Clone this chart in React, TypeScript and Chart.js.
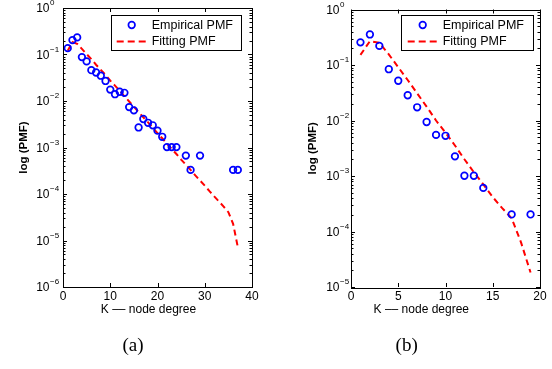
import React, { useEffect, useRef } from "react";
import { Chart, registerables } from "chart.js";
Chart.register(...registerables);

// ---------- data ----------
const kA = [1, 2, 3, 4, 5, 6, 7, 8, 9, 10, 11, 12, 13, 14, 15, 16, 17, 18, 19, 20, 21, 22, 23, 24, 26, 27, 29, 36, 37];
const empA = [0.137, 0.204, 0.233, 0.088, 0.071, 0.046, 0.041, 0.035, 0.027, 0.0176, 0.014, 0.0158, 0.015, 0.0074, 0.0063, 0.0027, 0.0041, 0.0034, 0.003, 0.0023, 0.0017, 0.00102, 0.00102, 0.00102, 0.00067, 0.00033, 0.00067, 0.00033, 0.00033];
const fitKA = [1, 2, 3, 4, 5, 6, 7, 8, 9, 10, 11, 12, 13, 14, 15, 16, 17, 18, 19, 20, 21, 22, 23, 24, 25, 26, 27, 28, 29, 30, 31, 32, 33, 34, 35, 36, 37];
const fitA = [0.12, 0.186, 0.17, 0.132, 0.102, 0.0794, 0.0603, 0.0468, 0.0363, 0.0275, 0.0214, 0.0166, 0.0126, 0.00977, 0.00759, 0.00575, 0.00447, 0.00347, 0.00263, 0.00204, 0.00158, 0.0012, 0.000933, 0.000724, 0.00055, 0.000427, 0.000331, 0.000251, 0.000195, 0.000151, 0.000115, 0.0000891, 0.0000692, 0.0000537, 0.0000407, 0.0000229, 0.0000072];

const kB = [1, 2, 3, 4, 5, 6, 7, 8, 9, 10, 11, 12, 13, 14, 17, 19];
const empB = [0.256, 0.355, 0.221, 0.084, 0.052, 0.0285, 0.0173, 0.0094, 0.0055, 0.0053, 0.00226, 0.00101, 0.00101, 0.00061, 0.000203, 0.000203];
const fitKB = [1, 2, 3, 4, 5, 6, 7, 8, 9, 10, 11, 12, 13, 14, 15, 16, 17, 18, 19];
const fitB = [0.152, 0.269, 0.251, 0.155, 0.0912, 0.0537, 0.0309, 0.0178, 0.01, 0.00603, 0.00355, 0.002, 0.00117, 0.000708, 0.000417, 0.000263, 0.000174, 0.0000631, 0.0000182];

const xTicksA = [0, 10, 20, 30, 40];
const yExpA = [-6, -5, -4, -3, -2, -1, 0];
const xTicksB = [0, 5, 10, 15, 20];
const yExpB = [-5, -4, -3, -2, -1, 0];

const legendLabels = ["Empirical PMF", "Fitting PMF"];
const xTitle = "K –– node degree";
const yTitle = "log (PMF)";
const captions = ["(a)", "(b)"];

const SANS = "'Liberation Sans', Arial, Helvetica, sans-serif";
const SERIF = "'Liberation Serif', 'Times New Roman', serif";

const matlabPlugin = {
  id: "matlab",
  afterDraw(chart: any, _args: any, o: any) {
    const ctx = chart.ctx as CanvasRenderingContext2D;
    const { left, right, top, bottom } = chart.chartArea;
    const xs = chart.scales.x;
    const ys = chart.scales.y;
    ctx.save();
    // box
    ctx.strokeStyle = "#000";
    ctx.lineWidth = 1;
    ctx.strokeRect(Math.round(left) + 0.5, Math.round(top) + 0.5, Math.round(right - left), Math.round(bottom - top));
    // x ticks
    ctx.beginPath();
    for (const t of o.xTicks) {
      const px = Math.round(xs.getPixelForValue(t)) + 0.5;
      ctx.moveTo(px, bottom);
      ctx.lineTo(px, bottom - 4);
      ctx.moveTo(px, top);
      ctx.lineTo(px, top + 4);
    }
    // y ticks (major + minor)
    for (let i = 0; i < o.yExp.length; i++) {
      const e = o.yExp[i];
      const py = Math.round(ys.getPixelForValue(Math.pow(10, e))) + 0.5;
      ctx.moveTo(left, py);
      ctx.lineTo(left + 4, py);
      ctx.moveTo(right, py);
      ctx.lineTo(right - 4, py);
      if (i < o.yExp.length - 1) {
        for (let m = 2; m <= 9; m++) {
          const pm = Math.round(ys.getPixelForValue(m * Math.pow(10, e))) + 0.5;
          ctx.moveTo(left, pm);
          ctx.lineTo(left + 2.5, pm);
          ctx.moveTo(right, pm);
          ctx.lineTo(right - 2.5, pm);
        }
      }
    }
    ctx.stroke();

    // tick labels
    ctx.fillStyle = "#000";
    ctx.font = `12px ${SANS}`;
    ctx.textAlign = "center";
    ctx.textBaseline = "middle";
    for (const t of o.xTicks) {
      ctx.fillText(String(t), xs.getPixelForValue(t), bottom + 10);
    }
    for (const e of o.yExp) {
      const py = ys.getPixelForValue(Math.pow(10, e));
      const xb = left - o.yLabGap;
      ctx.font = `12px ${SANS}`;
      ctx.textAlign = "right";
      ctx.textBaseline = "middle";
      ctx.fillText("10", xb, py + 1);
      ctx.font = `8px ${SANS}`;
      ctx.textAlign = "left";
      ctx.fillText(e < 0 ? "−" + Math.abs(e) : String(e), xb + 0.5, py - 5);
    }

    // axis titles
    ctx.font = `12px ${SANS}`;
    ctx.textAlign = "center";
    ctx.textBaseline = "middle";
    ctx.fillText(xTitle, o.xTitleX, 310);
    ctx.save();
    ctx.translate(o.yTitleX, (top + bottom) / 2);
    ctx.rotate(-Math.PI / 2);
    ctx.font = `bold 11.5px ${SANS}`;
    ctx.fillText(yTitle, 0, 0);
    ctx.restore();

    // caption
    ctx.font = `19px ${SERIF}`;
    ctx.textAlign = "center";
    ctx.textBaseline = "middle";
    ctx.fillText(o.caption, o.captionX, 346);

    // legend
    const L = o.legend;
    ctx.fillStyle = "#fff";
    ctx.fillRect(L.x, L.y, L.w, L.h);
    ctx.strokeStyle = "#000";
    ctx.lineWidth = 1;
    ctx.strokeRect(Math.round(L.x) + 0.5, Math.round(L.y) + 0.5, Math.round(L.w), Math.round(L.h));
    ctx.strokeStyle = "#0000ff";
    ctx.lineWidth = 1.7;
    ctx.beginPath();
    ctx.arc(L.markX, L.y + 10, 3.3, 0, Math.PI * 2);
    ctx.stroke();
    ctx.strokeStyle = "#ff0000";
    ctx.lineWidth = 2;
    ctx.setLineDash([7, 4]);
    ctx.beginPath();
    ctx.moveTo(L.lineX0, L.y + 26.5);
    ctx.lineTo(L.lineX1, L.y + 26.5);
    ctx.stroke();
    ctx.setLineDash([]);
    ctx.fillStyle = "#000";
    ctx.font = `12.5px ${SANS}`;
    ctx.textAlign = "left";
    ctx.textBaseline = "middle";
    ctx.fillText(legendLabels[0], L.textX, L.y + 10.5);
    ctx.fillText(legendLabels[1], L.textX, L.y + 26.5);
    ctx.restore();
  },
};

function makeConfig(
  k: number[], emp: number[], fk: number[], fit: number[],
  xMax: number, yMin: number, padding: any, opts: any
) {
  return {
    type: "scatter" as const,
    data: {
      datasets: [
        {
          label: legendLabels[0],
          data: k.map((x, i) => ({ x, y: emp[i] })),
          showLine: false,
          pointStyle: "circle",
          pointRadius: 3.3,
          pointBorderWidth: 1.7,
          borderColor: "#0000ff",
          backgroundColor: "rgba(0,0,0,0)",
        },
        {
          label: legendLabels[1],
          data: fk.map((x, i) => ({ x, y: fit[i] })),
          showLine: true,
          pointRadius: 0,
          borderColor: "#ff0000",
          borderWidth: 2,
          borderDash: [6, 4],
          fill: false,
          tension: 0,
        },
      ],
    },
    options: {
      responsive: false,
      animation: false,
      devicePixelRatio: 1,
      layout: { padding },
      scales: {
        x: { type: "linear", min: 0, max: xMax, display: false },
        y: { type: "logarithmic", min: yMin, max: 1, display: false },
      },
      plugins: {
        legend: { display: false },
        tooltip: { enabled: false },
        matlab: opts,
      },
    },
    plugins: [matlabPlugin],
  };
}

function ChartCanvas({ config }: { config: any }) {
  const ref = useRef<HTMLCanvasElement | null>(null);
  useEffect(() => {
    if (!ref.current) return;
    const chart = new Chart(ref.current, config);
    return () => chart.destroy();
  }, [config]);
  return (
    <canvas
      ref={ref}
      width={552}
      height={369}
      style={{ position: "absolute", left: 0, top: 0, width: 552, height: 369 }}
    />
  );
}

const configA = makeConfig(kA, empA, fitKA, fitA, 40, 1e-6,
  { left: 63, right: 300, top: 8, bottom: 82 },
  {
    xTicks: xTicksA, yExp: yExpA, yLabGap: 13.5, xTitleX: 148.5, yTitleX: 23.5,
    caption: captions[0], captionX: 133,
    legend: { x: 110.5, y: 15, w: 130, h: 35, markX: 131.7, lineX0: 116.7, lineX1: 148.3, textX: 151.7 },
  });

const configB = makeConfig(kB, empB, fitKB, fitB, 20, 1e-5,
  { left: 351, right: 12, top: 9.5, bottom: 82 },
  {
    xTicks: xTicksB, yExp: yExpB, yLabGap: 11.5, xTitleX: 421.3, yTitleX: 313,
    caption: captions[1], captionX: 406.7,
    legend: { x: 401, y: 15, w: 131.5, h: 35, markX: 422.7, lineX0: 407.7, lineX1: 439.3, textX: 442.7 },
  });

export default function App() {
  return (
    <div style={{ position: "absolute", left: 0, top: 0, width: 552, height: 369, background: "#fff" }}>
      <ChartCanvas config={configA} />
      <ChartCanvas config={configB} />
    </div>
  );
}
